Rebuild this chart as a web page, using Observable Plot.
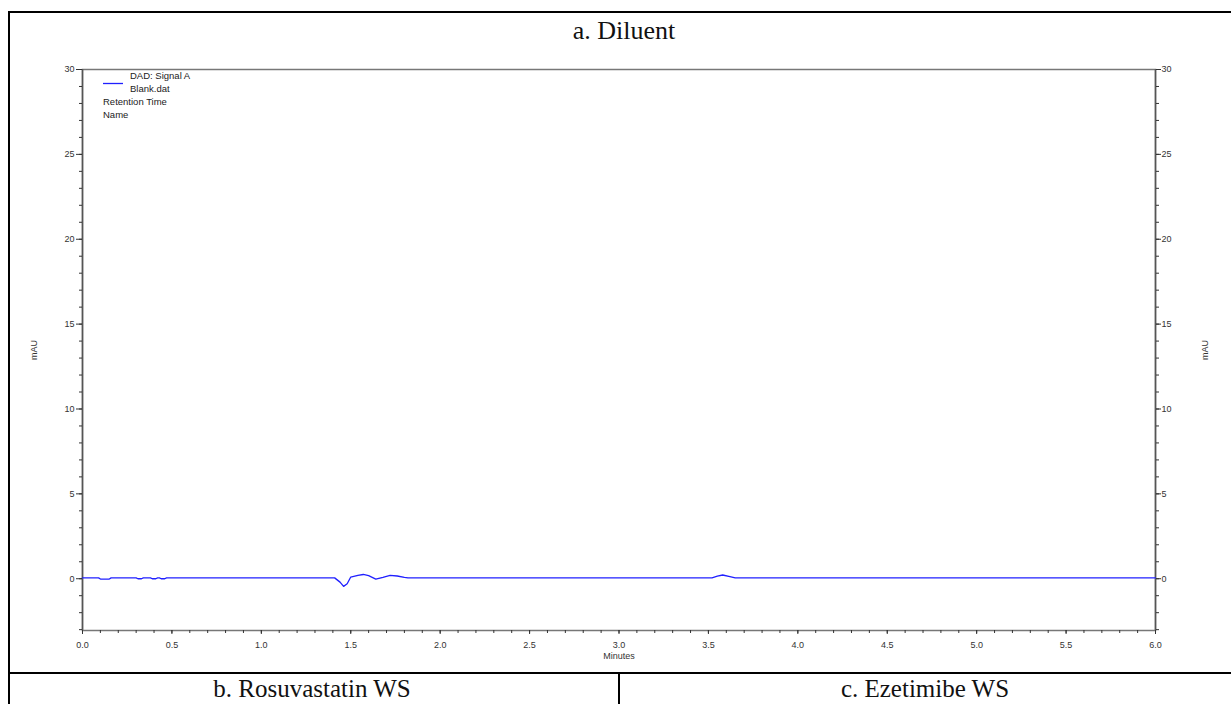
<!DOCTYPE html>
<html>
<head>
<meta charset="utf-8">
<script src="https://cdn.jsdelivr.net/npm/d3@7"></script>
<script src="https://cdn.jsdelivr.net/npm/@observablehq/plot@0.6"></script>
<style>
  html, body { margin: 0; padding: 0; background: #fff; }
  #wrap { position: relative; width: 1231px; height: 704px; overflow: hidden; font-family: "Liberation Sans", Arial, sans-serif; }
  #chart { position: absolute; left: 0; top: 0; }
  .bd { position: absolute; background: #000; }
  .cell { position: absolute; font-family: "Liberation Serif", "Times New Roman", serif; font-size: 26px; line-height: 30px; color: #111; text-align: center; white-space: nowrap; }
  .leg { position: absolute; font-size: 9.5px; color: #222; white-space: nowrap; line-height: 1; }
</style>
</head>
<body>
<div id="wrap">
  <div id="chart"></div>
  <div class="bd" style="left:8px; top:11px; width:1240px; height:2px;"></div>
  <div class="bd" style="left:8px; top:11px; width:2px; height:700px;"></div>
  <div class="bd" style="left:8px; top:672px; width:1240px; height:2px;"></div>
  <div class="bd" style="left:618px; top:672px; width:2px; height:40px;"></div>
  <div class="cell" id="titleA" style="left:524px; top:16px; width:200px;"></div>
  <div class="cell" id="titleB" style="left:162px; top:678px; width:300px; line-height:22px; font-size:25px;"></div>
  <div class="cell" id="titleC" style="left:775px; top:678px; width:300px; line-height:22px; font-size:25px;"></div>
  <div id="legend"></div>
</div>
<script>
// ---- data ----
const panelTitles = ["a. Diluent", "b. Rosuvastatin WS", "c. Ezetimibe WS"];
const legendLines = ["DAD: Signal A", "Blank.dat", "Retention Time", "Name"];
const xLabel = "Minutes";
const yLabel = "mAU";

const times  = [0, 0.09, 0.10, 0.15, 0.16, 0.30, 0.31, 0.33, 0.34, 0.38, 0.39, 0.41, 0.42, 0.43, 0.44, 0.46, 0.47,
                1.41, 1.44, 1.46, 1.48, 1.50, 1.54, 1.57, 1.60, 1.64, 1.68, 1.72, 1.76, 1.80, 1.82,
                3.52, 3.55, 3.58, 3.62, 3.65, 6.0];
const signal = [0.05, 0.05, -0.02, -0.02, 0.05, 0.05, 0.0, 0.0, 0.05, 0.05, 0.0, 0.0, 0.05, 0.05, 0.0, 0.0, 0.05,
                0.05, -0.2, -0.45, -0.3, 0.1, 0.2, 0.25, 0.18, -0.02, 0.08, 0.2, 0.16, 0.08, 0.05,
                0.05, 0.15, 0.22, 0.12, 0.05, 0.05];

const xMajorTicks = [0, 0.5, 1, 1.5, 2, 2.5, 3, 3.5, 4, 4.5, 5, 5.5, 6];
const xMinorTicks = d3.range(0, 61).map(i => i / 10);
const yMajorTicks = [0, 5, 10, 15, 20, 25, 30];
const yMinorTicks = d3.range(-3, 31);

const data = times.map((t, i) => ({t, v: signal[i]}));

// ---- titles ----
document.getElementById("titleA").textContent = panelTitles[0];
document.getElementById("titleB").textContent = panelTitles[1];
document.getElementById("titleC").textContent = panelTitles[2];

// legend (inside plot frame, top-left)
const leg = document.getElementById("legend");
leg.innerHTML =
  `<svg style="position:absolute;left:103px;top:82px" width="22" height="3"><line x1="0" y1="1.5" x2="20" y2="1.5" stroke="#2020ff" stroke-width="1.3"/></svg>` +
  `<div class="leg" style="left:130px;top:71px">${legendLines[0]}</div>` +
  `<div class="leg" style="left:130px;top:84px">${legendLines[1]}</div>` +
  `<div class="leg" style="left:103px;top:97px">${legendLines[2]}</div>` +
  `<div class="leg" style="left:103px;top:110px">${legendLines[3]}</div>`;

const fmtX = d3.format(".1f");
const axisColor = "#333";

const plot = Plot.plot({
  width: 1231,
  height: 704,
  marginLeft: 82,
  marginRight: 76,
  marginTop: 69,
  marginBottom: 74,
  style: {fontFamily: "'Liberation Sans', Arial, sans-serif", fontSize: "9px", color: axisColor, background: "transparent"},
  x: {domain: [0, 6]},
  y: {domain: [-3.05, 30]},
  marks: [
    Plot.frame({stroke: "#777", strokeWidth: 1.5}),
    Plot.ruleX([0], {stroke: "#555", strokeWidth: 1.5}),
    Plot.ruleX([6], {stroke: "#555", strokeWidth: 1.5}),
    // y axes left
    Plot.axisY(yMinorTicks, {anchor: "left", tickSize: 3, tickFormat: () => "", label: null}),
    Plot.axisY(yMajorTicks, {anchor: "left", tickSize: 6, tickPadding: 2, tickFormat: d => String(d), label: null}),
    // y axes right
    Plot.axisY(yMinorTicks, {anchor: "right", tickSize: 3, tickFormat: () => "", label: null}),
    Plot.axisY(yMajorTicks, {anchor: "right", tickSize: 5, tickPadding: 1, tickFormat: d => String(d), label: null}),
    // x axis
    Plot.axisX(xMinorTicks, {anchor: "bottom", tickSize: 3, tickFormat: () => "", label: null}),
    Plot.axisX(xMajorTicks, {anchor: "bottom", tickSize: 4, tickPadding: 7, tickFormat: fmtX, label: null}),
    // axis labels
    Plot.text([yLabel], {frameAnchor: "left", dx: -48, rotate: -90, textAnchor: "middle", fontSize: 9, fill: axisColor}),
    Plot.text([yLabel], {frameAnchor: "right", dx: 50, rotate: -90, textAnchor: "middle", fontSize: 9, fill: axisColor}),
    Plot.text([xLabel], {frameAnchor: "bottom", dy: 28, fontSize: 9, fill: axisColor}),
    // signal
    Plot.line(data, {x: "t", y: "v", stroke: "#2020ff", strokeWidth: 1.3})
  ]
});
document.getElementById("chart").appendChild(plot);
</script>
</body>
</html>
